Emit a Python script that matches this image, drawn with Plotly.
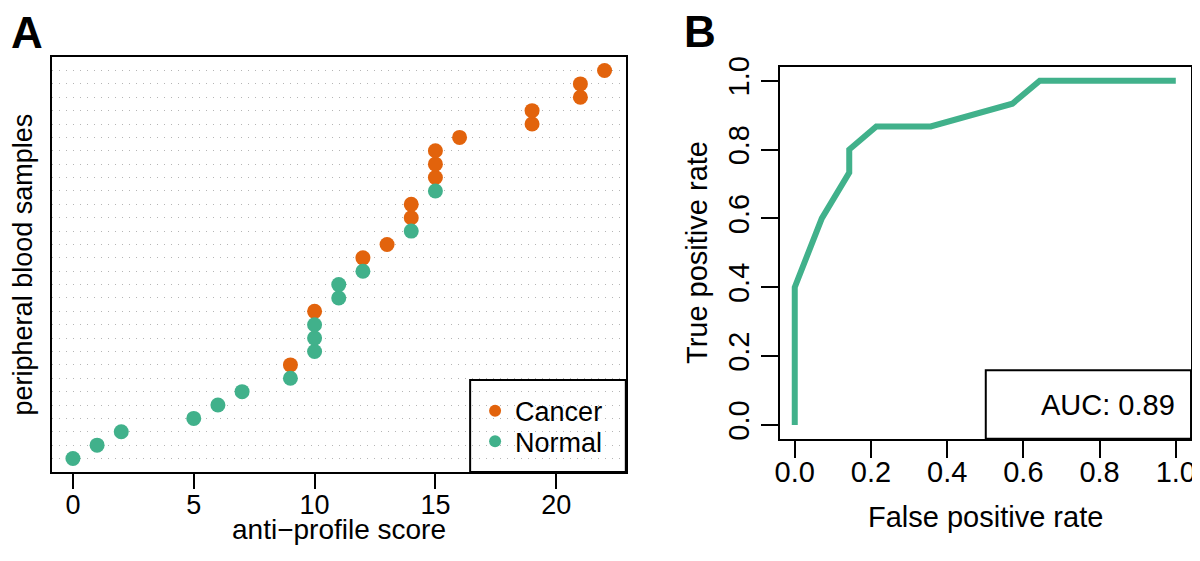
import plotly.graph_objects as go

# page body keeps an 8px margin, so the figure is drawn 8px in
OFF = 8
W, H = 1200 - OFF, 561 - OFF
FONT = "Liberation Sans, Arial, Helvetica, sans-serif"
ORANGE = "#E2630C"
GREEN = "#41B18B"

# panel A: one row per blood sample, sorted by anti-profile score
sample_rank = list(range(1, 31))
score = [0, 1, 2, 5, 6, 7, 9, 9, 10, 10, 10, 10, 11, 11, 12,
         12, 13, 14, 14, 14, 15, 15, 15, 15, 16, 19, 19, 21, 21, 22]
group = ["Normal", "Normal", "Normal", "Normal", "Normal", "Normal", "Normal", "Cancer",
         "Normal", "Normal", "Normal", "Cancer", "Normal", "Normal", "Normal", "Cancer",
         "Cancer", "Normal", "Cancer", "Cancer", "Normal", "Cancer", "Cancer", "Cancer",
         "Cancer", "Cancer", "Cancer", "Cancer", "Cancer", "Cancer"]
score_ticks = [0, 5, 10, 15, 20]

# panel B: ROC curve
fpr = [0.0, 0.0, 0.071, 0.143, 0.143, 0.214, 0.357, 0.571, 0.643, 1.0]
tpr = [0.0, 0.4, 0.6, 0.733, 0.8, 0.867, 0.867, 0.933, 1.0, 1.0]
rate_ticks = [0.0, 0.2, 0.4, 0.6, 0.8, 1.0]
auc_label = "AUC: 0.89"


def px_x(v):
    return (v - OFF) / W


def px_y(v):
    return 1 - (v - OFF) / H


fig = go.Figure()

legend_pos = {"Cancer": ("legend", 410), "Normal": ("legend2", 441)}
for name, color in [("Cancer", ORANGE), ("Normal", GREEN)]:
    xs = [s for s, g in zip(score, group) if g == name]
    ys = [r for r, g in zip(sample_rank, group) if g == name]
    fig.add_trace(go.Scatter(
        x=xs, y=ys, mode="markers", name=name,
        marker=dict(color=color, size=15, line=dict(width=0)),
        legend=legend_pos[name][0],
        xaxis="x", yaxis="y",
    ))

fig.add_trace(go.Scatter(
    x=fpr, y=tpr, mode="lines", showlegend=False,
    line=dict(color=GREEN, width=6),
    xaxis="x2", yaxis="y2",
))

axis_common = dict(showline=True, mirror=True, linecolor="black", linewidth=2,
                   zeroline=False, ticks="outside", tickcolor="black", tickwidth=2,
                   ticklabeloverflow="allow")


def legend_box(ypix):
    return dict(x=px_x(474), y=px_y(ypix), xanchor="left", yanchor="middle",
                bgcolor="rgba(0,0,0,0)", borderwidth=0,
                font=dict(size=27), itemsizing="constant")


def note(text, x, y, size, angle=0, xanchor="center"):
    return dict(text=text, x=px_x(x), y=px_y(y), xref="paper", yref="paper",
                xanchor=xanchor, yanchor="middle", showarrow=False,
                textangle=angle, font=dict(size=size))


fig.update_layout(
    width=W, height=H,
    margin=dict(l=0, r=0, t=0, b=0),
    paper_bgcolor="white", plot_bgcolor="white",
    font=dict(family=FONT, color="black", size=27),
    xaxis=dict(domain=[px_x(47), px_x(626)], range=[-0.88, 22.88],
               tickvals=score_ticks, ticklen=15, showgrid=False,
               tickfont=dict(size=27), ticklabelstandoff=-7, anchor="y", **axis_common),
    yaxis=dict(domain=[px_y(472), px_y(48)], range=[0, 31],
               tickvals=sample_rank, showticklabels=False, ticks="",
               showgrid=True, gridcolor="#B5B5B5", gridwidth=1, griddash="1.5px,5.5px",
               showline=True, mirror=True, linecolor="black", linewidth=2,
               zeroline=False, anchor="x"),
    xaxis2=dict(domain=[px_x(781), px_x(1196)], range=[-0.04, 1.04],
                tickvals=rate_ticks, tickformat=".1f", ticklen=17, showgrid=False,
                tickfont=dict(size=29), ticklabelstandoff=-10, anchor="y2", **axis_common),
    yaxis2=dict(domain=[px_y(438), px_y(58)], range=[-0.04, 1.04],
                tickvals=rate_ticks, tickformat=".1f", ticklen=17, showgrid=False,
                tickangle=-90, tickfont=dict(size=29), anchor="x2", **axis_common),
    legend=legend_box(410),
    legend2=legend_box(441),
    shapes=[
        dict(type="rect", xref="paper", yref="paper",
             x0=px_x(469), x1=px_x(626), y0=px_y(472), y1=px_y(378),
             line=dict(color="black", width=2), fillcolor="rgba(0,0,0,0)", layer="above"),
        dict(type="rect", xref="paper", yref="paper",
             x0=px_x(989), x1=px_x(1196), y0=px_y(438), y1=px_y(368),
             line=dict(color="black", width=2), fillcolor="rgba(0,0,0,0)", layer="above"),
    ],
    annotations=[
        note("<b>A</b>", 22, 23, 44),
        note("<b>B</b>", 701, 22, 44),
        note("anti\u2212profile score", 337, 531, 28),
        note("peripheral blood samples", 18, 260, 27, angle=-90),
        note("False positive rate", 989, 518, 29),
        note("True positive rate", 698, 248, 29, angle=-90),
        note(auc_label, 1182, 404, 29, xanchor="right"),
    ],
)

fig.write_html("out.html")
